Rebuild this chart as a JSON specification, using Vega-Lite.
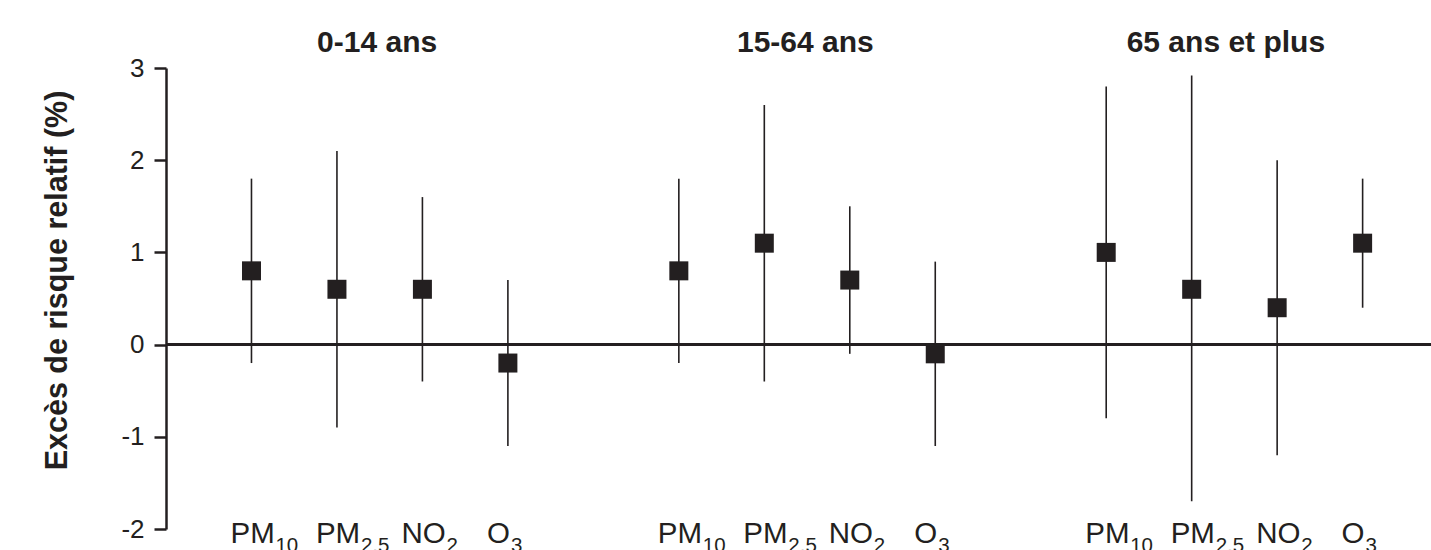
{
  "$schema": "https://vega.github.io/schema/vega-lite/v6.json",
  "width": 1265,
  "height": 461,
  "autosize": "none",
  "padding": {"left": 166, "top": 68, "right": 0, "bottom": 21},
  "background": "white",
  "config": {"view": {"stroke": null}, "font": "Liberation Sans"},
  "datasets": {
    "est": [
      {"group": "0-14 ans", "name": "PM", "sub": "10", "pos": 0, "est": 0.8, "lo": -0.2, "hi": 1.8},
      {"group": "0-14 ans", "name": "PM", "sub": "2.5", "pos": 1, "est": 0.6, "lo": -0.9, "hi": 2.1},
      {"group": "0-14 ans", "name": "NO", "sub": "2", "pos": 2, "est": 0.6, "lo": -0.4, "hi": 1.6},
      {"group": "0-14 ans", "name": "O", "sub": "3", "pos": 3, "est": -0.2, "lo": -1.1, "hi": 0.7},
      {"group": "15-64 ans", "name": "PM", "sub": "10", "pos": 5, "est": 0.8, "lo": -0.2, "hi": 1.8},
      {"group": "15-64 ans", "name": "PM", "sub": "2.5", "pos": 6, "est": 1.1, "lo": -0.4, "hi": 2.6},
      {"group": "15-64 ans", "name": "NO", "sub": "2", "pos": 7, "est": 0.7, "lo": -0.1, "hi": 1.5},
      {"group": "15-64 ans", "name": "O", "sub": "3", "pos": 8, "est": -0.1, "lo": -1.1, "hi": 0.9},
      {"group": "65 ans et plus", "name": "PM", "sub": "10", "pos": 10, "est": 1.0, "lo": -0.8, "hi": 2.8},
      {"group": "65 ans et plus", "name": "PM", "sub": "2.5", "pos": 11, "est": 0.6, "lo": -1.7, "hi": 2.92},
      {"group": "65 ans et plus", "name": "NO", "sub": "2", "pos": 12, "est": 0.4, "lo": -1.2, "hi": 2.0},
      {"group": "65 ans et plus", "name": "O", "sub": "3", "pos": 13, "est": 1.1, "lo": 0.4, "hi": 1.8}
    ],
    "groups": [
      {"group": "0-14 ans", "center": 1.47},
      {"group": "15-64 ans", "center": 6.48},
      {"group": "65 ans et plus", "center": 11.4}
    ]
  },
  "layer": [
    {
      "data": {"values": [{"y": 0}]},
      "mark": {"type": "rule", "strokeWidth": 3, "color": "#231f20"},
      "encoding": {
        "y": {
          "field": "y",
          "type": "quantitative",
          "scale": {"domain": [-2, 3], "nice": false, "zero": false},
          "axis": {
            "values": [-2, -1, 0, 1, 2, 3],
            "labelExpr": "'' + datum.value",
            "grid": false,
            "domainColor": "#231f20",
            "domainWidth": 2.5,
            "tickColor": "#231f20",
            "tickWidth": 2.5,
            "tickSize": 12,
            "labelFontSize": 26,
            "labelColor": "#231f20",
            "labelPadding": 10,
            "labelFont": "Liberation Sans",
            "title": "Excès de risque relatif (%)",
            "titleFontSize": 30.5,
            "titleFont": "Liberation Sans",
            "titleFontWeight": "bold",
            "titleColor": "#231f20",
            "titlePadding": 48,
            "titleY": 212
          }
        }
      }
    },
    {
      "data": {"name": "est"},
      "mark": {"type": "rule", "strokeWidth": 1.6, "color": "#231f20"},
      "encoding": {
        "x": {"field": "pos", "type": "quantitative", "scale": {"domain": [-1, 13.8], "nice": false, "zero": false}, "axis": null},
        "y": {"field": "lo", "type": "quantitative"},
        "y2": {"field": "hi"}
      }
    },
    {
      "data": {"name": "est"},
      "mark": {"type": "point", "shape": "square", "filled": true, "size": 361, "opacity": 1, "color": "#231f20"},
      "encoding": {
        "x": {"field": "pos", "type": "quantitative"},
        "y": {"field": "est", "type": "quantitative"}
      }
    },
    {
      "data": {"name": "est"},
      "mark": {"type": "text", "align": "left", "baseline": "alphabetic", "dx": -21, "dy": 14, "fontSize": 29.5, "font": "Liberation Sans", "color": "#231f20"},
      "encoding": {
        "x": {"field": "pos", "type": "quantitative"},
        "y": {"datum": -2, "type": "quantitative"},
        "text": {"field": "name"}
      }
    },
    {
      "data": {"name": "est"},
      "transform": [{"filter": "datum.name !== 'O'"}],
      "mark": {"type": "text", "align": "left", "baseline": "alphabetic", "dx": 24, "dy": 23, "fontSize": 20.5, "font": "Liberation Sans", "color": "#231f20"},
      "encoding": {
        "x": {"field": "pos", "type": "quantitative"},
        "y": {"datum": -2, "type": "quantitative"},
        "text": {"field": "sub"}
      }
    },
    {
      "data": {"name": "est"},
      "transform": [{"filter": "datum.name === 'O'"}],
      "mark": {"type": "text", "align": "left", "baseline": "alphabetic", "dx": 3, "dy": 23, "fontSize": 20.5, "font": "Liberation Sans", "color": "#231f20"},
      "encoding": {
        "x": {"field": "pos", "type": "quantitative"},
        "y": {"datum": -2, "type": "quantitative"},
        "text": {"field": "sub"}
      }
    },
    {
      "data": {"name": "groups"},
      "mark": {"type": "text", "align": "center", "baseline": "alphabetic", "dy": -16, "fontSize": 30, "fontWeight": "bold", "font": "Liberation Sans", "color": "#231f20"},
      "encoding": {
        "x": {"field": "center", "type": "quantitative"},
        "y": {"datum": 3, "type": "quantitative"},
        "text": {"field": "group"}
      }
    }
  ]
}
